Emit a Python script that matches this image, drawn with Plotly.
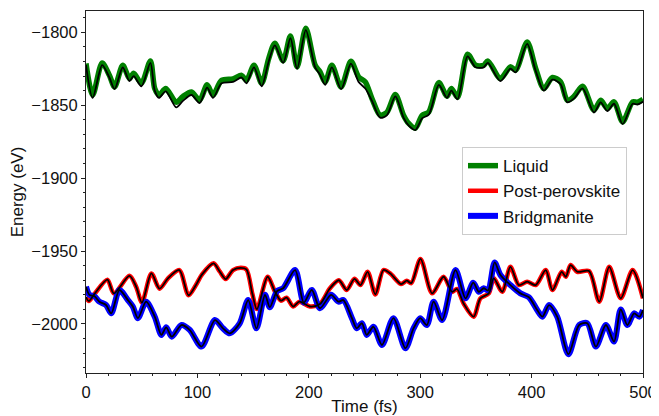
import plotly.graph_objects as go

# ---------------- data ----------------
liq_t = [0, 6, 14.5, 21, 25.7, 33, 39, 42.8, 49.7, 57.8, 61.7, 65.5, 71.6, 81, 87, 94.7,
         102, 108.7, 114, 121.7, 132, 139.7, 144, 150.8, 157.7, 164, 169.5, 177, 183.5,
         189.5, 197.3, 205.7, 210, 214.7, 220.7, 229, 237.8, 244.7, 250.7, 256.7, 264,
         270, 277.7, 285, 289.7, 295.7, 301.7, 307.7, 316.7, 324, 328, 333.5, 342.5,
         349.7, 357, 360.7, 372, 381, 385.7, 396, 403.7, 411, 418.7, 426, 432, 438,
         445.7, 456, 462, 468, 474, 481.7, 490.7, 495, 500]
liq_e = [-1821.4, -1843, -1821, -1829.5, -1837.5, -1822.6, -1831.7, -1828, -1835, -1819.6,
         -1838.6, -1843, -1838.6, -1848, -1844, -1841, -1846.6, -1836, -1843, -1833,
         -1832, -1829.5, -1833, -1822.6, -1835, -1818, -1807.5, -1819.5, -1802.5, -1823.7,
         -1797.2, -1822.6, -1827, -1834, -1822.6, -1837.5, -1819.9, -1830.6, -1834,
         -1845.4, -1856.8, -1855, -1842.7, -1856.8, -1862.5, -1865.7, -1857, -1854.6,
         -1834.5, -1843.8, -1838.6, -1844.5, -1815, -1822.6, -1822.6, -1819.6, -1831.7,
         -1823.7, -1826, -1806.6, -1824.9, -1838.6, -1831, -1834, -1846.6, -1844, -1837,
         -1853.4, -1846.6, -1852.3, -1847.7, -1861.4, -1847.7, -1848, -1846]
liq_ref = [-1822.5, -1845, -1822.5, -1831, -1839, -1824, -1833.5, -1830, -1837, -1821,
           -1840, -1845, -1840.5, -1851.5, -1847, -1843, -1848.5, -1838, -1845, -1835,
           -1834, -1831, -1835, -1824, -1837, -1820, -1809, -1821, -1804, -1825,
           -1798.5, -1824, -1829, -1836, -1824, -1839, -1821.5, -1834, -1838.5,
           -1847, -1858.5, -1857, -1844, -1858.5, -1864, -1867, -1859, -1856.5,
           -1836, -1845, -1840, -1846, -1816.5, -1824, -1824, -1821, -1833.5,
           -1825, -1827.5, -1808, -1826.5, -1840, -1832.5, -1835.5, -1848, -1845.5, -1838.5,
           -1855, -1848, -1854, -1849, -1863, -1849, -1849.5, -1847.5]

ppv_t = [0, 2.5, 8, 19.2, 25, 39, 45, 50.2, 58.7, 66, 73.6, 83.8, 92, 98.3, 104.2, 114.5,
         120, 125.4, 132, 139, 144, 149.4, 153.4, 163, 169.7, 175, 180, 186, 191.6, 201,
         210, 219, 227, 234, 241, 246.4, 252.8, 259.7, 267, 273, 282.8, 288, 292, 300.3,
         310.7, 321, 328.7, 333, 339, 348, 354, 361.6, 366, 373.7, 381, 388.6, 396,
         403.7, 412.7, 418.7, 427, 430.7, 435, 441, 451.6, 460.7, 469.7, 480, 490.7, 500]
ppv_e = [-1981.5, -1984.3, -1979, -1969.6, -1979, -1967, -1974.4, -1985.3, -1965.3, -1975.8,
         -1968.7, -1963, -1980.3, -1973.8, -1966, -1958.4, -1964, -1969.2, -1963, -1961.5,
         -1962.6, -1979.5, -1989.8, -1967.6, -1977.9, -1984, -1982, -1988, -1984.7, -1988,
         -1986.3, -1975.5, -1970, -1976.7, -1969, -1973.3, -1964.2, -1979.7, -1963,
         -1965.3, -1972.6, -1970.3, -1972, -1955.4, -1979, -1967.6, -1978, -1976, -1986,
         -1995, -1982.4, -1979, -1968.7, -1977.9, -1960.8, -1973.3, -1971, -1973.3, -1963,
         -1976.7, -1964.2, -1967.6, -1959.6, -1964.2, -1963.7, -1984.7, -1960.8, -1982.4,
         -1963, -1982.4]

brg_t = [0, 3, 7.6, 12, 18, 22.7, 30, 37.6, 42, 46.6, 54, 61.7, 67.7, 72, 77, 85.7, 93,
         103.7, 115.7, 123, 129, 138, 145.6, 153, 160.7, 165, 171.5, 177, 187.7, 195.5,
         202.7, 210, 220, 226.6, 231, 238.7, 243, 247.7, 252, 258, 265.7, 276, 286.7, 294,
         300, 306, 312, 319.7, 331.7, 340.7, 347.6, 352.6, 357, 361, 366.8, 372, 381, 390,
         397.6, 405, 409.7, 415.7, 423, 433, 442.7, 450, 457.7, 466.7, 474, 480, 486, 492,
         496.7, 500]
brg_e = [-1974.4, -1980, -1981, -1984.7, -1987, -1992.7, -1976.7, -1983.6, -1988, -1996,
         -1984.7, -1995, -2007.5, -2002.3, -2008.7, -2000.7, -2004, -2015.5, -1997.3, -2003,
         -2006.4, -1999.5, -1983.6, -2003, -1980, -1988.5, -1977.5, -1975.5, -1963,
         -1985.3, -1976.7, -1989.2, -1980, -1984.7, -1983.6, -1996, -2003, -1999.5,
         -2007.5, -2001.9, -2014.4, -1996, -2016.6, -2003, -1996, -2000.7, -1984.7,
         -1997.3, -1963, -1982.4, -1971.7, -1977.9, -1975.5, -1977, -1957.8, -1966.4,
         -1973.3, -1979, -1981.7, -1990.4, -1995, -1987, -1995, -2020.7, -2000.7, -1999.5,
         -2015.5, -2000.7, -2012, -1990, -2000.7, -1992.7, -1995, -1990.4]

series = [
    ("Liquid", liq_t, liq_e, liq_ref, "#008000", 5.5),
    ("Post-perovskite", ppv_t, ppv_e, ppv_e, "#ff0000", 4.5),
    ("Bridgmanite", brg_t, brg_e, brg_e, "#0000ff", 6),
]

FONT = "Liberation Sans, Arial, sans-serif"

fig = go.Figure()
for name, t, e, ref, color, w in series:
    fig.add_trace(go.Scatter(x=t, y=e, mode="lines", name=name,
                             line=dict(color=color, width=w, shape="spline", smoothing=0.8)))
for name, t, e, ref, color, w in series:
    fig.add_trace(go.Scatter(x=t, y=ref, mode="lines", showlegend=False, hoverinfo="skip",
                             line=dict(color="black", width=1.8, shape="spline", smoothing=0.8)))

axis_common = dict(showline=True, linecolor="#222222", linewidth=1, mirror=True,
                   ticks="outside", ticklen=4, tickwidth=1, tickcolor="#222222",
                   showgrid=False, zeroline=False, automargin=False,
                   tickfont=dict(family=FONT, size=16.5, color="#111111"))

fig.update_xaxes(range=[0, 500], dtick=100, tick0=0,
                 minor=dict(dtick=20, ticks="outside", ticklen=2, tickcolor="#222222"),
                 title=dict(text="Time (fs)", font=dict(family=FONT, size=17, color="#111111"),
                            standoff=8),
                 **axis_common)
fig.update_yaxes(range=[-2033.6, -1785.4], dtick=50, tick0=-2000,
                 minor=dict(dtick=10, ticks="outside", ticklen=2, tickcolor="#222222"),
                 title=dict(text="Energy (eV)", font=dict(family=FONT, size=17, color="#111111"),
                            standoff=3),
                 **axis_common)

# the page body adds an 8px margin, so the figure is sized to fill the rest of the window
fig.update_layout(
    width=651, height=408,
    margin=dict(l=78, r=15.5, t=2.7, b=42.7),
    paper_bgcolor="white", plot_bgcolor="white",
    font=dict(family=FONT, size=16, color="#111111"),
    legend=dict(x=0.675, y=0.624, xanchor="left", yanchor="top",
                bordercolor="#cccccc", borderwidth=1, bgcolor="rgba(255,255,255,0.85)",
                font=dict(family=FONT, size=17, color="#111111"),
                tracegroupgap=0),
)

fig.write_html("out.html")
